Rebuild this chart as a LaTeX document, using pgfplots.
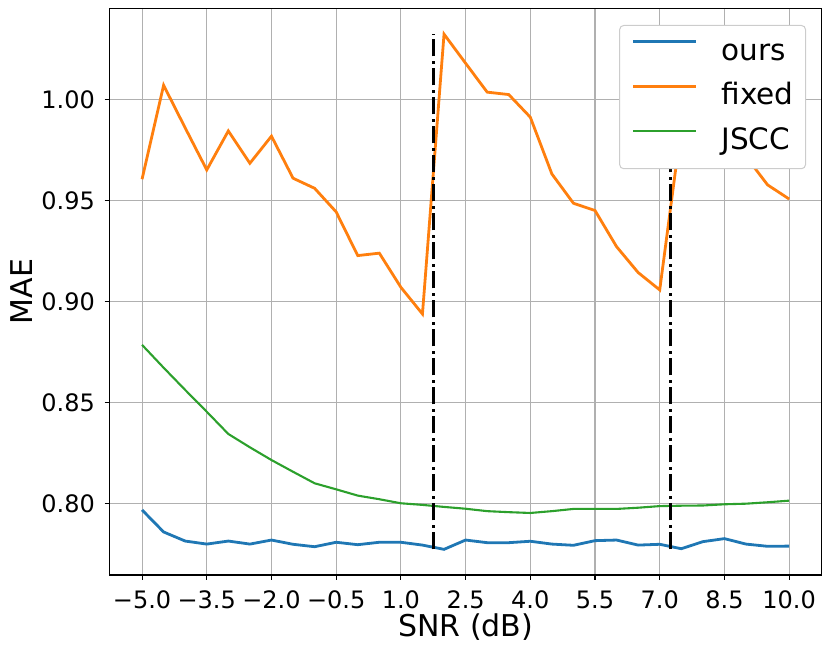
\documentclass[border=0pt]{standalone}
\usepackage{pgfplots}
\pgfplotsset{compat=1.18}
\usepackage{fontspec}
\setmainfont{DejaVu Sans}
\definecolor{cOurs}{HTML}{1F77B4}
\definecolor{cFixed}{HTML}{FF7F0E}
\definecolor{cJscc}{HTML}{2CA02C}
\definecolor{cGrid}{HTML}{B0B0B0}
\definecolor{cLeg}{HTML}{CCCCCC}
\begin{document}
\begin{tikzpicture}
\path[use as bounding box] (-109.7pt,-78pt) rectangle (721.3pt,575pt);
\begin{axis}[
  at={(0pt,0pt)}, anchor=south west,
  scale only axis, width=711.8pt, height=566.7pt,
  xmin=-5.75, xmax=10.75, ymin=0.7647, ymax=1.0452,
  xtick={-5,-3.5,-2,-0.5,1,2.5,4,5.5,7,8.5,10},
  xticklabels={−5.0,−3.5,−2.0,−0.5,1.0,2.5,4.0,5.5,7.0,8.5,10.0},
  ytick={0.80,0.85,0.90,0.95,1.00},
  yticklabels={0.80,0.85,0.90,0.95,1.00},
  xtick pos=left, ytick pos=left,
  tick align=outside, major tick length=5pt,
  tick style={black, line width=1.1pt},
  axis line style={black, line width=1.1pt},
  grid=major, major grid style={cGrid, line width=1.1pt},
  ticklabel style={font=\fontsize{24}{29}\selectfont},
  xticklabel style={anchor=base, yshift=-29pt},
  yticklabel style={anchor=east, inner sep=0pt, xshift=-9.7pt},
  xlabel={SNR (dB)}, ylabel={MAE},
  every axis x label/.style={at={(axis description cs:0.5,-0.1089)}, anchor=base, font=\fontsize{30}{36}\selectfont},
  every axis y label/.style={at={(axis description cs:-0.1236,0.5)}, rotate=90, anchor=center, font=\fontsize{30}{36}\selectfont},
  legend cell align=left,
  legend image code/.code={\draw[#1] (0pt,10.7pt) -- (63pt,10.7pt);},
  legend style={at={(1,1)}, anchor=north east, xshift=-15.5pt, yshift=-16.7pt,
    draw=cLeg, line width=1pt, fill=white,
    rounded corners=4pt, font=\fontsize{29.5}{35}\selectfont,
    inner xsep=12pt, inner ysep=12.75pt, row sep=16.1pt, column sep=24pt,
    nodes={inner sep=0pt, text height=22pt, text depth=6.5pt}},
]
\addplot[cOurs, line width=2.8pt] coordinates {
(-5.0,0.7969) (-4.5,0.7860) (-4.0,0.7815) (-3.5,0.7800) (-3.0,0.7815)
(-2.5,0.7800) (-2.0,0.7820) (-1.5,0.7799) (-1.0,0.7787) (-0.5,0.7809)
(0.0,0.7797) (0.5,0.7809) (1.0,0.7809) (1.5,0.7795) (2.0,0.7774)
(2.5,0.7820) (3.0,0.7807) (3.5,0.7807) (4.0,0.7814) (4.5,0.7800)
(5.0,0.7794) (5.5,0.7817) (6.0,0.7820) (6.5,0.7795) (7.0,0.7799)
(7.5,0.7777) (8.0,0.7812) (8.5,0.7827) (9.0,0.7800) (9.5,0.7789)
(10.0,0.7790)};
\addlegendentry{ours}
\addplot[cFixed, line width=2.8pt] coordinates {
(-5.0,0.9606) (-4.5,1.0071) (-4.0,0.9860) (-3.5,0.9652) (-3.0,0.9845)
(-2.5,0.9685) (-2.0,0.9819) (-1.5,0.9611) (-1.0,0.9561) (-0.5,0.9444)
(0.0,0.9228) (0.5,0.9240) (1.0,0.9071) (1.5,0.8939) (2.0,1.0324)
(2.5,1.0180) (3.0,1.0037) (3.5,1.0025) (4.0,0.9913) (4.5,0.9632)
(5.0,0.9487) (5.5,0.9451) (6.0,0.9272) (6.5,0.9144) (7.0,0.9058)
(7.5,0.9866) (8.0,1.0000) (8.5,0.9860) (9.0,0.9718) (9.5,0.9578)
(10.0,0.9508)};
\addlegendentry{fixed}
\addplot[cJscc, line width=2.1pt] coordinates {
(-5.0,0.8786) (-4.5,0.8673) (-4.0,0.8563) (-3.5,0.8455) (-3.0,0.8345)
(-2.5,0.8279) (-2.0,0.8216) (-1.5,0.8158) (-1.0,0.8101) (-0.5,0.8071)
(0.0,0.8040) (0.5,0.8022) (1.0,0.8002) (1.5,0.7994) (2.0,0.7984)
(2.5,0.7975) (3.0,0.7963) (3.5,0.7958) (4.0,0.7954) (4.5,0.7963)
(5.0,0.7974) (5.5,0.7974) (6.0,0.7974) (6.5,0.7980) (7.0,0.7988)
(7.5,0.7990) (8.0,0.7991) (8.5,0.7997) (9.0,0.8000) (9.5,0.8007)
(10.0,0.8015)};
\addlegendentry{JSCC}
\addplot[black, line width=2.8pt, dash pattern=on 17pt off 4.5pt on 3pt off 4.5pt, forget plot]
  coordinates {(1.75,0.7774) (1.75,1.0324)};
\addplot[black, line width=2.8pt, dash pattern=on 17pt off 4.5pt on 3pt off 4.5pt, forget plot]
  coordinates {(7.25,0.7774) (7.25,1.0324)};
\end{axis}
\end{tikzpicture}
\end{document}
